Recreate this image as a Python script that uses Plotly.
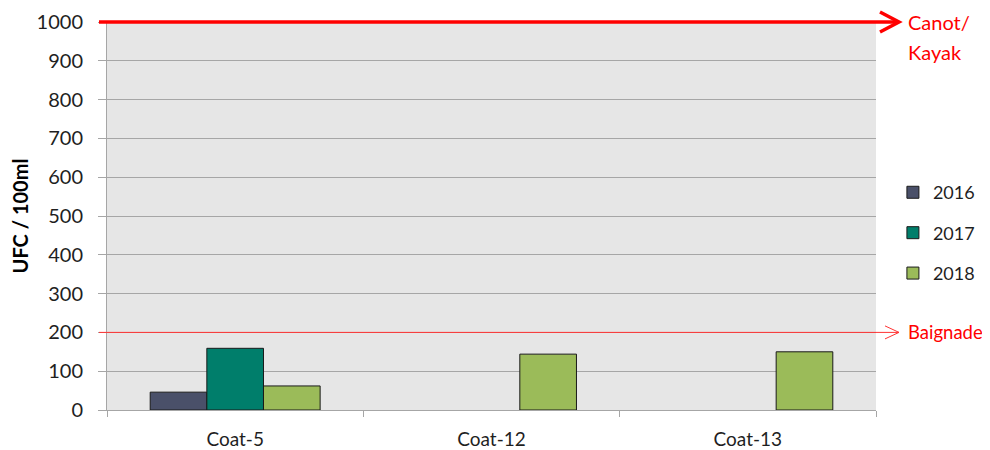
import plotly.graph_objects as go

categories = ["Coat-5", "Coat-12", "Coat-13"]
years = ["2016", "2017", "2018"]
values_2016 = [46, None, None]
values_2017 = [159, None, None]
values_2018 = [62, 144, 150]
series = [values_2016, values_2017, values_2018]
colors = ["#4a5069", "#007e6b", "#9bbb59"]

thresholds = [1000, 200]
threshold_labels = [["Canot/", "Kayak"], ["Baignade"]]
y_ticks = list(range(0, 1001, 100))
y_range = [0, 1000]

FONT = "Lato"
# page body has an 8px margin; figure sized so the plot lands where the reference's does
W, H = 982, 442
M = dict(l=99, r=114, t=14, b=40)
plot_w = W - M["l"] - M["r"]
plot_h = H - M["t"] - M["b"]

fig = go.Figure()
for name, vals, col in zip(years, series, colors):
    fig.add_trace(go.Bar(
        x=categories, y=vals, name=name, legendgroup=name,
        marker=dict(color=col, line=dict(color="#1a1a1a", width=1)),
    ))

shapes = []
annotations = []
specs = [dict(w=3.5, dx=19, dy=10, col="#ff0000", fs=20),
         dict(w=1, dx=14, dy=6.5, col="#ff3333", fs=18.5)]
tip = 1 + 23 / plot_w
for t, lab, s in zip(thresholds, threshold_labels, specs):
    yp = (t - y_range[0]) / (y_range[1] - y_range[0])
    dxp = s["dx"] / plot_w
    dyp = s["dy"] / plot_h
    shapes.append(dict(type="line", xref="paper", yref="paper", x0=-8 / plot_w, x1=tip, y0=yp, y1=yp,
                       line=dict(color=s["col"], width=s["w"]), layer="above"))
    shapes.append(dict(type="path", xref="paper", yref="paper",
                       path=f"M {tip - dxp},{yp + dyp} L {tip},{yp} L {tip - dxp},{yp - dyp}",
                       line=dict(color=s["col"], width=s["w"]), layer="above"))
    for i, txt in enumerate(lab):
        annotations.append(dict(xref="paper", yref="paper", x=1 + 30 / plot_w, y=yp, text=txt,
                                showarrow=False, xanchor="left", yanchor="middle", yshift=-30 * i,
                                font=dict(family=FONT, size=s["fs"], color="#ff0000")))

fig.update_layout(
    width=W, height=H,
    margin=dict(**M, autoexpand=False),
    paper_bgcolor="white", plot_bgcolor="#e6e6e6",
    barmode="group", bargap=0.337, bargroupgap=0,
    font=dict(family=FONT, size=18, color="#1f1f1f"),
    showlegend=True,
    legend=dict(x=1.022, y=0.456, xanchor="left", yanchor="middle", traceorder="grouped",
                tracegroupgap=14, font=dict(family=FONT, size=18, color="#1f1f1f"),
                bgcolor="rgba(0,0,0,0)"),
    shapes=shapes, annotations=annotations,
    xaxis=dict(type="category", showline=True, linecolor="#a6a6a6", linewidth=1,
               ticks="outside", tickson="boundaries", ticklen=6, tickcolor="#a6a6a6",
               ticklabelstandoff=12,
               showgrid=False, tickfont=dict(size=19)),
    yaxis=dict(range=y_range, tickvals=y_ticks, showline=True, linecolor="#a6a6a6", linewidth=1,
               ticks="outside", ticklen=8, tickcolor="#a6a6a6", ticklabelstandoff=11,
               tickfont=dict(size=20),
               showgrid=True, gridcolor="#a6a6a6", gridwidth=1, zeroline=False,
               title=dict(text="<b>UFC / 100ml</b>", font=dict(size=20, color="#000000"), standoff=10)),
)

fig.write_html("out.html")
